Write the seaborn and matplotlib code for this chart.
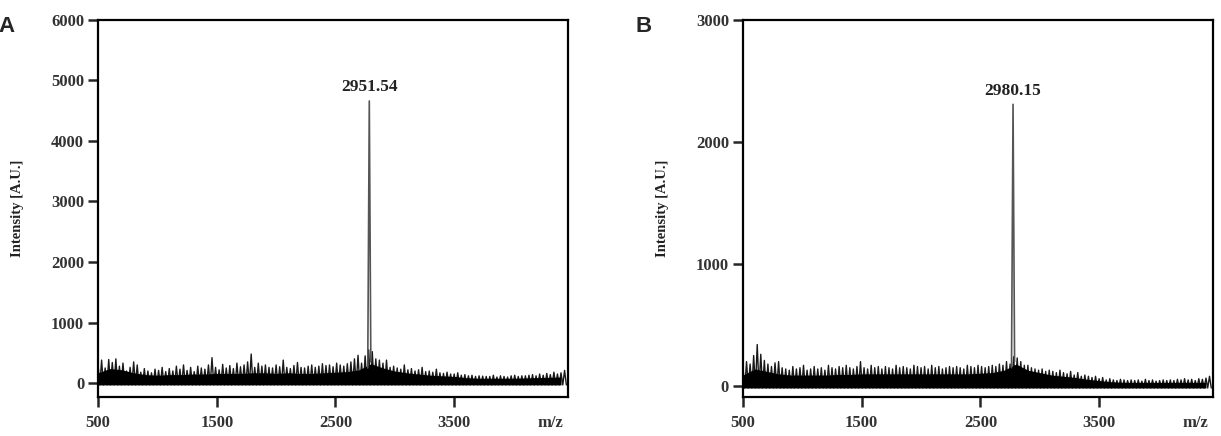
import numpy as np
import pandas as pd
import seaborn as sns
import matplotlib.pyplot as plt

sns.set_style("ticks")
plt.rcParams['font.family'] = ['Liberation Serif', 'DejaVu Serif']
plt.rcParams['font.weight'] = 'bold'

# ---- data ----
# m/z grid of the dense noise core (every 100) and of the noise spikes (every 30)
core_mz = np.arange(500, 4500, 100)
spike_mz = np.arange(500, 4440, 30)

# panel A
core_a = [170, 240, 220, 170, 140, 130, 140, 140, 150, 150,
          160, 160, 160, 170, 170, 160, 170, 160, 160, 170,
          180, 190, 220, 320, 250, 200, 170, 150, 130, 120,
          110, 90, 80, 80, 80, 80, 85, 90, 95, 100]
spikes_a = [300, 380, 250, 390, 340, 400, 280, 330, 200, 260,
            350, 300, 180, 240, 200, 170, 230, 210, 260, 190,
            240, 200, 280, 230, 300, 210, 260, 190, 280, 250,
            230, 300, 420, 260, 220, 310, 250, 290, 240, 330,
            270, 300, 350, 480, 260, 330, 280, 300, 260, 250,
            300, 270, 380, 260, 240, 290, 340, 260, 250, 280,
            300, 260, 280, 320, 290, 300, 270, 330, 300, 280,
            320, 350, 400, 460, 330, 450, 550, 520, 400, 380,
            330, 380, 260, 280, 250, 230, 300, 220, 240, 200,
            220, 260, 190, 200, 180, 230, 170, 160, 180, 150,
            150, 170, 130, 140, 120, 130, 110, 120, 115, 110,
            110, 130, 100, 120, 110, 100, 120, 130, 110, 120,
            120, 130, 140, 120, 150, 130, 160, 140, 180, 150,
            170, 210]
peak_a_mz = [2772, 2785, 2798]
peak_a_int = [250, 4660, 350]
peak_a_label = "2951.54"
base_a = -30

# panel B
core_b = [90, 140, 120, 100, 90, 90, 90, 90, 95, 95,
          100, 100, 100, 100, 100, 100, 100, 100, 100, 100,
          105, 110, 130, 180, 130, 110, 90, 80, 70, 55,
          45, 35, 30, 30, 30, 30, 30, 30, 30, 30]
spikes_b = [150, 200, 180, 250, 340, 260, 210, 180, 160, 190,
            200, 150, 140, 130, 160, 140, 150, 170, 130, 140,
            160, 140, 150, 130, 170, 150, 140, 160, 150, 170,
            150, 140, 160, 200, 150, 140, 170, 150, 160, 140,
            160, 150, 140, 170, 150, 160, 150, 140, 170, 160,
            150, 160, 140, 170, 150, 160, 140, 150, 160, 150,
            160, 150, 140, 170, 160, 150, 170, 160, 150, 160,
            170, 160, 180, 170, 200, 180, 240, 230, 200, 170,
            170, 150, 140, 130, 140, 120, 130, 120, 110, 130,
            110, 100, 120, 90, 110, 80, 90, 80, 70, 80,
            60, 70, 50, 60, 50, 45, 55, 50, 45, 50,
            45, 50, 40, 55, 45, 50, 40, 45, 50, 45,
            50, 45, 55, 50, 60, 50, 55, 45, 60, 55,
            65, 80]
peak_b_mz = [2762, 2775, 2788]
peak_b_int = [150, 2308, 200]
peak_b_label = "2980.15"
base_b = -16

x_ticks = [500, 1500, 2500, 3500]
y_ticks_a = [0, 1000, 2000, 3000, 4000, 5000, 6000]
y_ticks_b = [0, 1000, 2000, 3000]

fig = plt.figure(figsize=(12.21, 4.36), dpi=100)
ax_a = fig.add_axes([0.0803, 0.0894, 0.385, 0.865])
ax_b = fig.add_axes([0.6085, 0.0894, 0.385, 0.865])


def draw_panel(ax, core, spikes, base, pk_mz, pk_int, pk_label, yticks, ylim):
    # dense noise core
    ax.fill_between(core_mz, base, core, color='black', linewidth=0)
    # noise spikes as a zigzag trace: up to each spike, back down to the base
    zig_x = np.column_stack([spike_mz, spike_mz + 15]).ravel()
    zig_y = np.column_stack([spikes, np.full(len(spikes), base)]).ravel()
    sns.lineplot(x=zig_x, y=zig_y, ax=ax, color='black', linewidth=1.0,
                 alpha=0.9, estimator=None, sort=False)
    peak = pd.DataFrame({'mz': pk_mz, 'intensity': pk_int})
    sns.lineplot(data=peak, x='mz', y='intensity', ax=ax, color='#555555',
                 linewidth=1.2, estimator=None, sort=False)
    ax.annotate(pk_label, xy=(pk_mz[1], pk_int[1]), xytext=(0, 4),
                textcoords='offset points', ha='center', va='bottom',
                fontsize=12.5, fontweight='bold', color='#222222')
    ax.set_xlim(500, 4460)
    ax.set_ylim(*ylim)
    ax.set_xticks(x_ticks)
    ax.set_yticks(yticks)
    ax.tick_params(direction='out', length=7, width=1.8, pad=3,
                   labelsize=12, labelcolor='#333333')
    ax.tick_params(axis='x', pad=6)
    for lbl in ax.get_xticklabels() + ax.get_yticklabels():
        lbl.set_fontweight('bold')
    for sp in ax.spines.values():
        sp.set_visible(True)
        sp.set_linewidth(1.6)
        sp.set_color('black')
    ax.set_xlabel('')
    ax.set_ylabel('Intensity [A.U.]', fontsize=10.5, fontweight='bold', color='#222222')
    ax.yaxis.set_label_coords(-0.157, 0.5)
    ax.text(0.963, -0.068, 'm/z', transform=ax.transAxes, ha='center', va='center',
            fontsize=12, fontweight='bold', color='#333333')


draw_panel(ax_a, core_a, spikes_a, base_a, peak_a_mz, peak_a_int, peak_a_label,
           y_ticks_a, (-230, 6000))
draw_panel(ax_b, core_b, spikes_b, base_b, peak_b_mz, peak_b_int, peak_b_label,
           y_ticks_b, (-90, 3000))

fig.text(0.0055, 0.927, 'A', ha='center', va='baseline', fontsize=16,
         fontweight='bold', family=['Liberation Sans', 'DejaVu Sans'])
fig.text(0.527, 0.927, 'B', ha='center', va='baseline', fontsize=16,
         fontweight='bold', family=['Liberation Sans', 'DejaVu Sans'])

fig.savefig('out.png', dpi=100)
